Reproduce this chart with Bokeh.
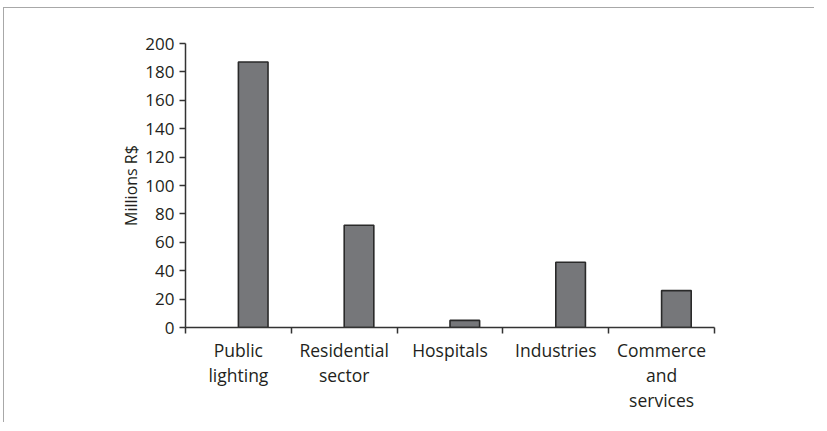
from bokeh.plotting import figure
from bokeh.models import Range1d, FixedTicker, ColumnDataSource
from bokeh.embed import file_html
from bokeh.resources import INLINE

categories = ["Public\nlighting", "Residential\nsector", "Hospitals", "Industries", "Commerce\nand\nservices"]
values = [187, 72, 5, 46, 26]
y_ticks = [0, 20, 40, 60, 80, 100, 120, 140, 160, 180, 200]
y_label = "Millions R$"

FONT = "Open Sans"
TXT = "#231f20"

n = len(categories)
centers = [i + 0.5 for i in range(n)]
bar_x = [c + 0.14 for c in centers]
src = ColumnDataSource(dict(x=bar_x, top=values))

p = figure(width=811, height=415, output_backend="svg", toolbar_location=None,
           x_range=Range1d(0, n), y_range=Range1d(0, 200),
           min_border_left=181, min_border_right=101, min_border_top=35, min_border_bottom=96)
p.outline_line_color = None
p.grid.visible = False
p.background_fill_color = "white"
p.border_fill_color = "white"
p.styles = {"margin-left": "3px", "margin-top": "7px",
            "border-top": "1px solid #a8a8a8", "border-left": "1px solid #a8a8a8"}

p.vbar(x="x", top="top", width=0.28, source=src, fill_color="#76777a",
       line_color="#2a2a2a", line_width=1.6)

xa = p.xaxis[0]
xa.ticker = FixedTicker(ticks=centers, minor_ticks=list(range(n + 1)))
xa.major_label_overrides = {c: lab for c, lab in zip(centers, categories)}
xa.major_tick_line_color = None
xa.minor_tick_in = 0
xa.minor_tick_out = 6
xa.minor_tick_line_color = "#333333"
xa.minor_tick_line_width = 1.5
xa.axis_line_color = "#333333"
xa.axis_line_width = 1.5
xa.major_label_text_font = FONT
xa.major_label_text_font_size = "17.5px"
xa.major_label_text_color = TXT
xa.major_label_standoff = 4
xa.major_label_text_line_height = 1.05

ya = p.yaxis[0]
ya.ticker = FixedTicker(ticks=y_ticks)
ya.minor_tick_line_color = None
ya.major_tick_in = 0
ya.major_tick_out = 6
ya.major_tick_line_color = "#333333"
ya.major_tick_line_width = 1.5
ya.axis_line_color = "#333333"
ya.axis_line_width = 1.5
ya.major_label_text_font = FONT
ya.major_label_text_font_size = "17px"
ya.major_label_text_color = TXT
ya.major_label_standoff = 5
ya.axis_label = y_label
ya.axis_label_text_font = FONT
ya.axis_label_text_font_size = "16px"
ya.axis_label_text_font_style = "normal"
ya.axis_label_text_color = TXT
ya.axis_label_standoff = 0

open("out.html", "w").write(file_html(p, INLINE))
